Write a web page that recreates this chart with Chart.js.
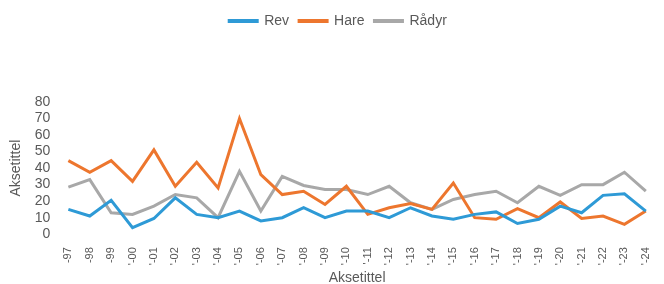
<!DOCTYPE html>
<html>
<head>
<meta charset="utf-8">
<script src="https://cdn.jsdelivr.net/npm/chart.js@4.4.1/dist/chart.umd.min.js"></script>
<style>
  html, body { margin: 0; padding: 0; background: #fff; }
  #wrap { width: 664px; height: 284px; }
</style>
</head>
<body>
<div id="wrap"><canvas id="viltCanvas"></canvas></div>
<script>
// årstall langs x-aksen
const aar = ["-97", "-98", "-99", "'-00", "'-01", "'-02", "'-03", "'-04", "'-05", "'-06",
    "'-07", "'-08", "'-09", "'-10", "'-11", "'-12", "'-13", "'-14", "'-15", "'-16",
    "'-17", "'-18", "'-19", "'-20", "'-21", "'-22", "'-23", "'-24"];

const rev = [15, 11, 20.5, 4, 9.5, 22, 12, 10, 14, 8,
    10, 16, 10, 14, 14, 10, 16, 11, 9, 12,
    13.5, 6.5, 9, 17, 13, 23.5, 24.5, 14];
const hare = [44.5, 37.5, 44.5, 32, 51, 29, 43.5, 28, 70, 36,
    24, 26, 18, 29, 12, 16, 18.5, 15, 31, 10,
    9, 15.5, 10, 19.5, 9.5, 11, 6, 14];
const radyr = [28.5, 33, 13, 12, 17, 24, 22, 10, 38, 14,
    35, 29.5, 27, 27, 24, 29, 19, 15, 21, 24,
    26, 19, 29, 23.5, 30, 30, 37.5, 26];

const yTicks = [0, 10, 20, 30, 40, 50, 60, 70, 80];

const tekstFarge = "#595959";
const font = "'Liberation Sans', Arial, sans-serif";

// ekstra luft under forklaringen
const legendSpace = {
    id: "legendSpace",
    beforeInit(chart) {
        const origFit = chart.legend.fit;
        chart.legend.fit = function () {
            origFit.bind(chart.legend)();
            this.height += 64;
        };
    }
};

const viltCanvas = document.getElementById("viltCanvas");

const viltChart = new Chart(viltCanvas, {
    type: "line",
    data: {
        labels: aar,
        datasets: [
            {
                label: "Rev",
                data: rev,
                borderColor: "rgb(46, 154, 214)",
                backgroundColor: "rgb(46, 154, 214)",
                borderWidth: 3,
            },
            {
                label: "Hare",
                data: hare,
                borderColor: "rgb(237, 118, 46)",
                backgroundColor: "rgb(237, 118, 46)",
                borderWidth: 3,
            },
            {
                label: "Rådyr",
                data: radyr,
                borderColor: "rgb(168, 168, 168)",
                backgroundColor: "rgb(168, 168, 168)",
                borderWidth: 3,
            },
        ],
    },
    options: {
        responsive: true,
        maintainAspectRatio: false,
        animation: false,
        layout: { padding: { top: 4, right: -4, left: 8, bottom: -3 } },
        elements: {
            point: { radius: 0 },
            line: { tension: 0 },
        },
        plugins: {
            legend: {
                position: "top",
                labels: {
                    boxWidth: 28,
                    boxHeight: 1,
                    color: tekstFarge,
                    font: { family: "'Liberation Sans Narrow', " + font, size: 14 },
                    padding: 10,
                },
            },
            tooltip: { enabled: false },
        },
        scales: {
            x: {
                grid: { display: false },
                border: { display: false },
                ticks: {
                    color: tekstFarge,
                    font: { family: font, size: 11 },
                    minRotation: 90,
                    maxRotation: 90,
                    autoSkip: false,
                    padding: 5,
                },
                title: {
                    display: true,
                    text: "Aksetittel",
                    color: tekstFarge,
                    font: { family: "'Liberation Sans Narrow', " + font, size: 14 },
                    padding: { top: 0, bottom: 0 },
                },
            },
            y: {
                min: 0,
                max: 80,
                grid: { display: false },
                border: { display: false },
                afterBuildTicks(axis) {
                    axis.ticks = yTicks.map(v => ({ value: v }));
                },
                ticks: {
                    color: tekstFarge,
                    font: { family: font, size: 14 },
                    autoSkip: false,
                    padding: 10,
                },
                title: {
                    display: true,
                    text: "Aksetittel",
                    color: tekstFarge,
                    font: { family: "'Liberation Sans Narrow', " + font, size: 14 },
                    padding: { top: 0, bottom: 0 },
                },
            },
        },
    },
    plugins: [legendSpace],
});
</script>
</body>
</html>
